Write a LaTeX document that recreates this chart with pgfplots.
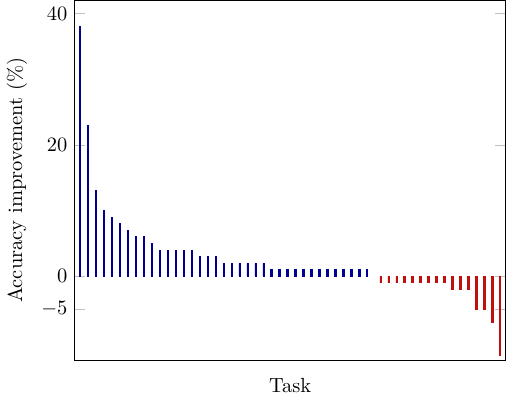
\documentclass[border=0pt]{standalone}
\usepackage{pgfplots}
\pgfplotsset{compat=1.18}
\definecolor{barblue}{rgb}{0,0,0.55}
\definecolor{barred}{rgb}{0.75,0.06,0.06}
\begin{document}
\begin{tikzpicture}
\begin{axis}[
    width=210.7pt, height=176pt, scale only axis,
    ybar=2pt, bar width=0.6pt,
    xmin=0, xmax=54,
    ymin=-12.8, ymax=42,
    xtick=\empty,
    ytick={-5,0,20,40},
    tick style={gray!50},
    major tick length=5pt,
    xlabel={Task},
    ylabel={Accuracy improvement (\%)},
]
% tasks that improved
\addplot[draw=barblue, fill=barblue] coordinates {
(1,38)(2,23)(3,13)(4,10)(5,9)(6,8)(7,7)(8,6)(9,6)(10,5)
(11,4)(12,4)(13,4)(14,4)(15,4)(16,3)(17,3)(18,3)
(19,2)(20,2)(21,2)(22,2)(23,2)(24,2)
(25,1)(26,1)(27,1)(28,1)(29,1)(30,1)(31,1)(32,1)(33,1)(34,1)(35,1)(36,1)(37,1)
};
% tasks that got worse
\addplot[draw=barred, fill=barred] coordinates {
(38,-1)(39,-1)(40,-1)(41,-1)(42,-1)(43,-1)(44,-1)(45,-1)(46,-1)
(47,-2)(48,-2)(49,-2)(50,-5)(51,-5)(52,-7)(53,-12)
};
\end{axis}
\end{tikzpicture}
\end{document}
